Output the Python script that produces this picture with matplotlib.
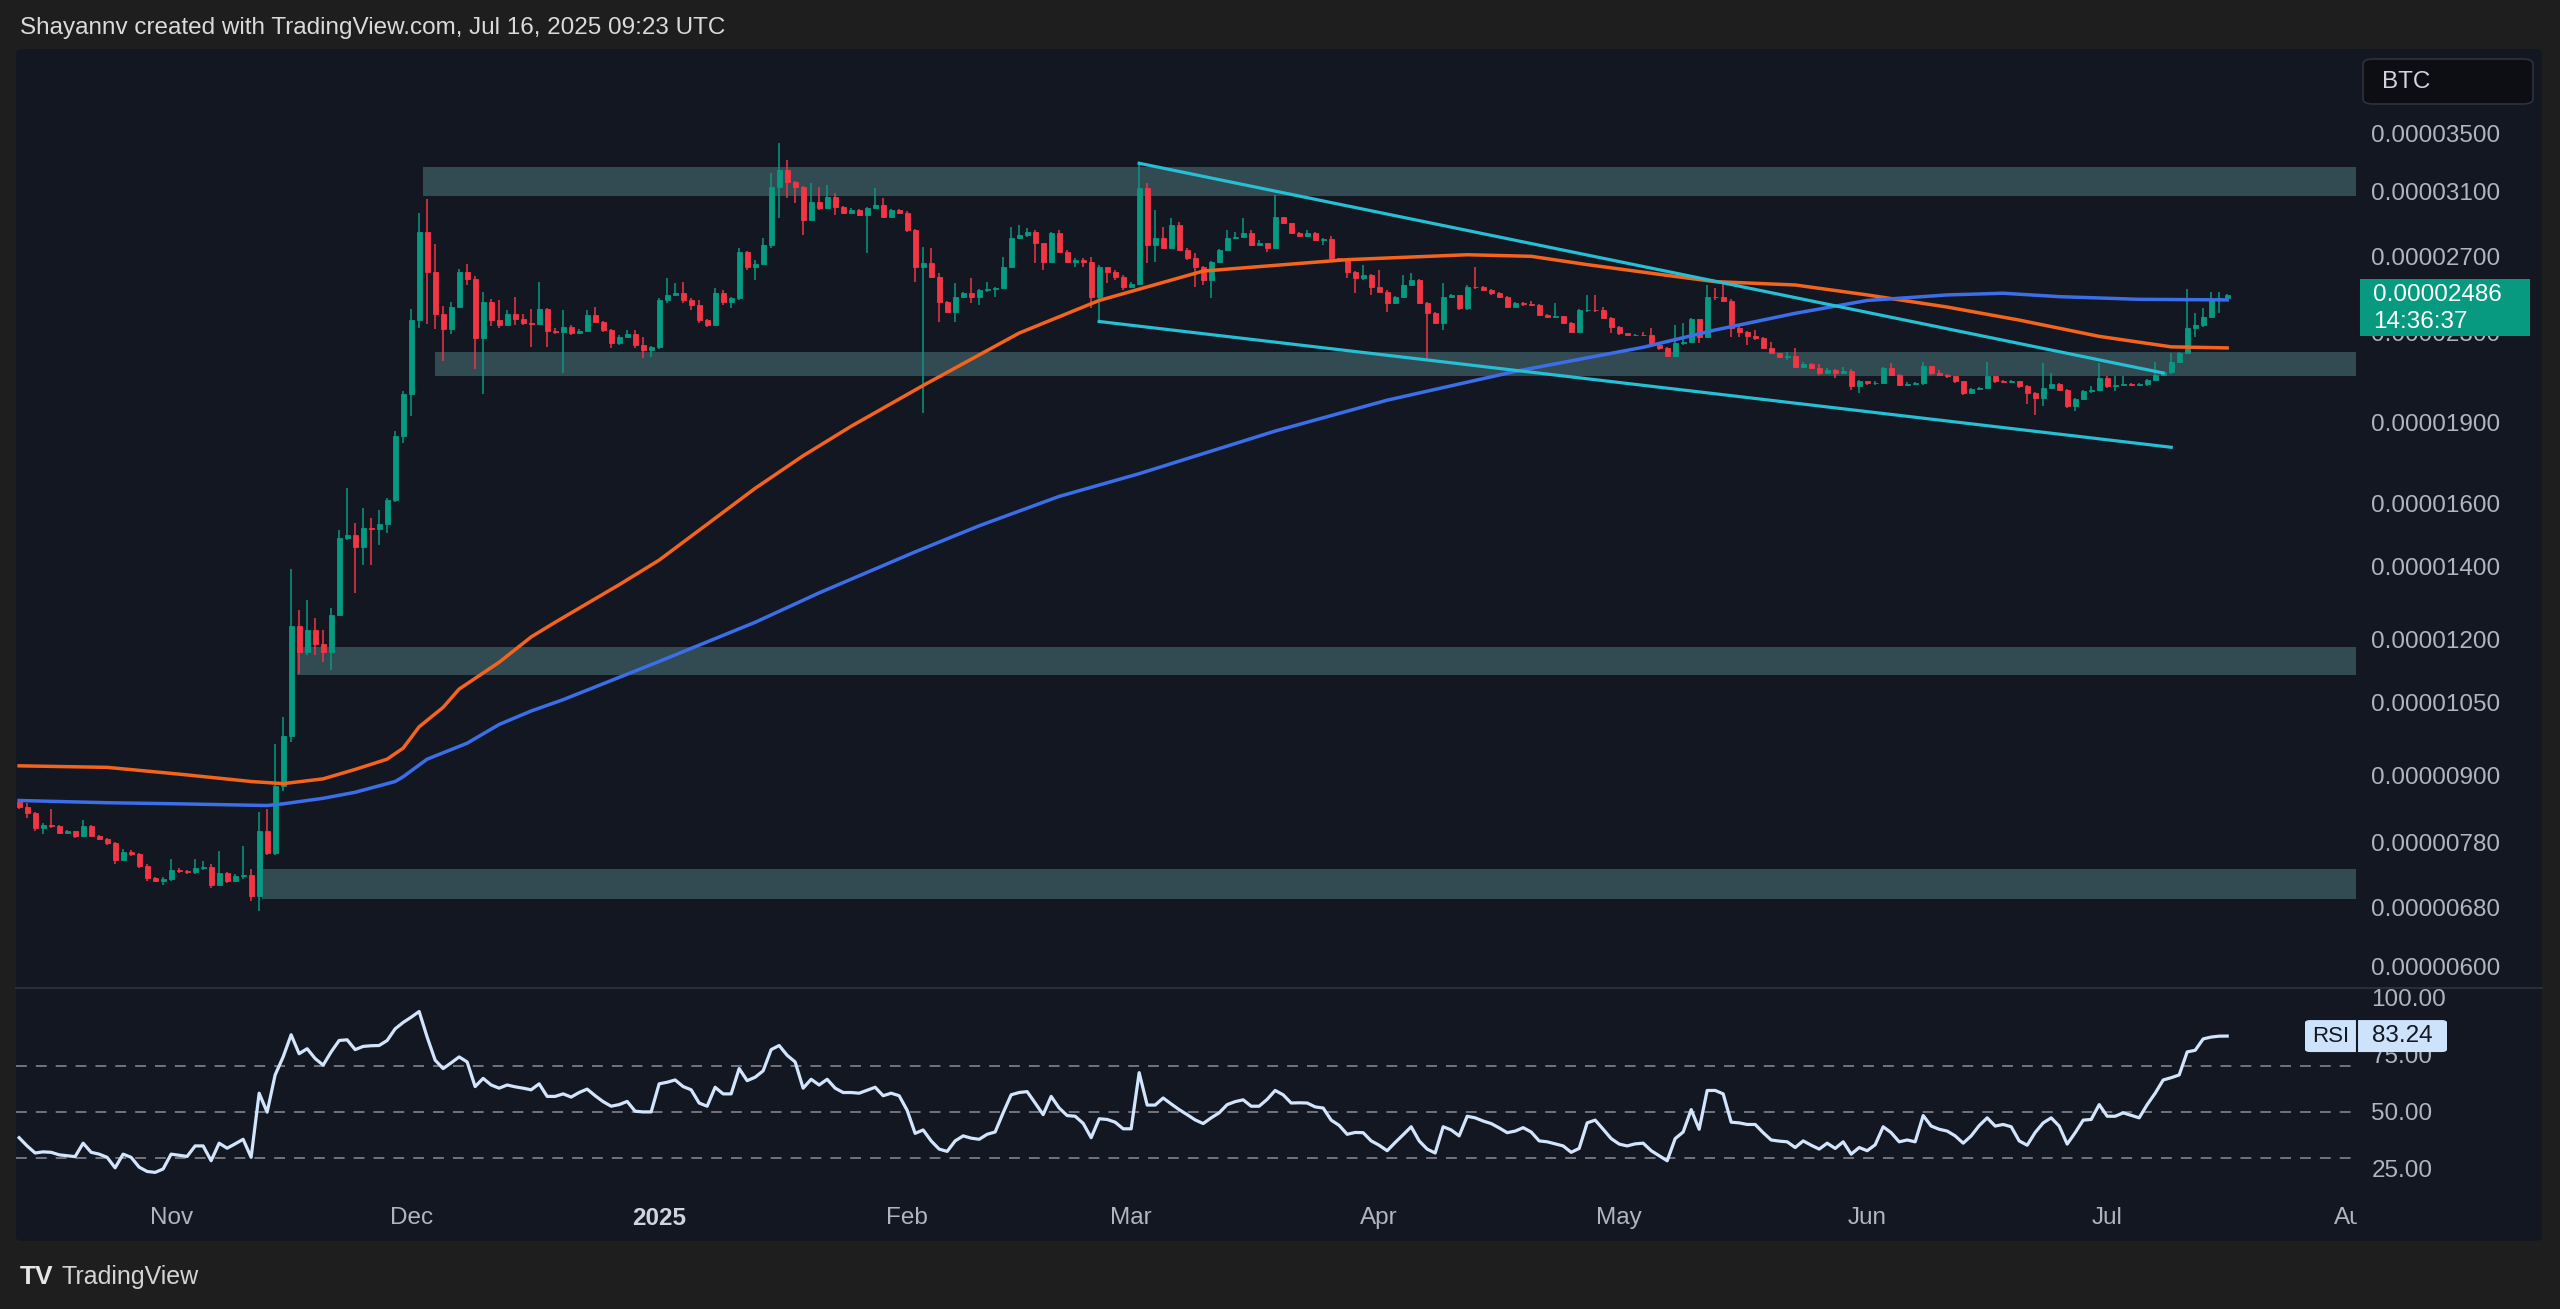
import numpy as np
import pandas as pd
import matplotlib
matplotlib.use("Agg")
import matplotlib.pyplot as plt
import matplotlib.dates as mdates
from matplotlib.patches import FancyBboxPatch, Rectangle
from matplotlib.lines import Line2D
from matplotlib.ticker import NullLocator
from matplotlib.transforms import Bbox

plt.rcParams["font.family"] = ["Liberation Sans", "DejaVu Sans"]

W, H = 2560, 1309
BG_OUT = "#1e1e1e"
BG = "#131722"
TXT = "#b2b5be"
UP = "#089981"
DOWN = "#f23645"

# Daily candles, price in units of 1e-8 BTC, first candle 2024-10-13
start_date = "2024-10-13"
first_open = 851
closes = [
    # Oct 13 - Oct 31
    842, 830, 805, 810, 808, 797, 799, 792, 808, 792, 786, 780, 752, 765, 762, 743, 724, 720, 722,
    # Nov
    736, 735, 733, 740, 741, 713, 731, 720, 727, 728, 697, 800, 763, 879, 978,
    1233, 1168, 1225, 1188, 1168, 1263, 1488, 1496, 1460, 1520, 1515, 1532, 1610, 1846, 2018,
    # Dec
    2360, 2844, 2614, 2389, 2314, 2427, 2614, 2572, 2272, 2452, 2360, 2335, 2389, 2364, 2345, 2340,
    2413, 2303, 2300, 2326, 2294, 2305, 2385, 2351, 2310, 2246, 2278, 2290, 2238, 2214, 2230,
    # Jan
    2461, 2488, 2497, 2461, 2436, 2359, 2335, 2497, 2453, 2470, 2727, 2642, 2655, 2766, 3129, 3241,
    3162, 3129, 2916, 3031, 2989, 3064, 2999, 2957, 2978, 2947, 2989, 3010, 2937, 2978, 2960,
    # Feb
    2855, 2642, 2660, 2586, 2453, 2402, 2479, 2497, 2479, 2514, 2520, 2523, 2642, 2805, 2825, 2845,
    2775, 2670, 2835, 2727, 2670, 2679, 2670, 2479, 2642, 2614, 2586, 2532,
    # Mar
    2545, 3118, 2766, 2805, 2746, 2885, 2736, 2689, 2642, 2568, 2670, 2736, 2805, 2815, 2835, 2766,
    2775, 2746, 2932, 2895, 2835, 2819, 2835, 2795, 2800, 2689, 2679, 2614, 2577, 2596, 2532,
    # Apr
    2505, 2444, 2479, 2541, 2568, 2444, 2393, 2343, 2479, 2488, 2418, 2532, 2530, 2514, 2497,
    2479, 2427, 2444, 2440, 2436, 2385, 2376, 2378, 2343, 2302, 2410, 2412, 2410, 2368, 2326,
    # May
    2294, 2286, 2286, 2285, 2238, 2223, 2187, 2246, 2254, 2363, 2275, 2479, 2475, 2455, 2318, 2300,
    2281, 2270, 2223, 2199, 2183, 2187, 2138, 2150, 2130, 2108, 2123, 2108, 2120, 2050, 2072,
    # Jun
    2064, 2066, 2130, 2101, 2057, 2062, 2064, 2140, 2108, 2101, 2094, 2072, 2022, 2040, 2043,
    2094, 2072, 2070, 2072, 2050, 2022, 2001, 2043, 2061, 2036, 1966, 1994, 2029, 2036, 2086,
    # Jul 1 - Jul 16
    2050, 2057, 2061, 2057, 2059, 2079, 2101, 2115, 2160, 2199, 2318, 2333, 2376, 2462, 2470, 2486,
]
highs = [
    855, 848, 832, 813, 838, 810, 802, 800, 818, 810, 793, 788, 782, 770, 768, 764, 745, 725, 725,
    754, 740, 737, 754, 750, 745, 766, 733, 730, 774, 738, 833, 838, 961, 1018,
    1394, 1276, 1303, 1255, 1224, 1283, 1512, 1653, 1536, 1585, 1552, 1577, 1620, 1866, 2030,
    2413, 2957, 3050, 2770, 2430, 2450, 2630, 2655, 2590, 2506, 2465, 2460, 2410, 2478, 2390, 2413,
    2558, 2420, 2320, 2410, 2335, 2315, 2410, 2427, 2355, 2315, 2285, 2310, 2310, 2278, 2235,
    2470, 2577, 2550, 2559, 2470, 2461, 2365, 2523, 2514, 2478, 2746, 2730, 2679, 2805, 3219, 3430,
    3311, 3165, 3135, 3151, 3129, 3140, 3085, 3005, 2990, 2985, 2995, 3118, 3053, 2985, 2985,
    2970, 2860, 2756, 2746, 2605, 2455, 2550, 2505, 2577, 2520, 2559, 2530, 2698, 2875, 2885, 2865,
    2855, 2780, 2840, 2855, 2736, 2689, 2689, 2698, 2650, 2642, 2623, 2596,
    2555, 3288, 3151, 2978, 2875, 2926, 2906, 2746, 2717, 2645, 2675, 2740, 2855, 2845, 2926, 2855,
    2795, 2780, 3074, 2935, 2900, 2840, 2855, 2840, 2805, 2819, 2692, 2672, 2620, 2651, 2600,
    2623, 2514, 2485, 2596, 2605, 2572, 2450, 2398, 2550, 2495, 2490, 2540, 2642, 2535, 2518,
    2505, 2485, 2450, 2450, 2455, 2440, 2388, 2444, 2380, 2351, 2415, 2488, 2488, 2427, 2372,
    2330, 2296, 2292, 2302, 2318, 2240, 2226, 2335, 2343, 2370, 2365, 2541, 2523, 2550, 2466, 2335,
    2305, 2310, 2278, 2254, 2200, 2207, 2223, 2158, 2155, 2150, 2130, 2125, 2138, 2125, 2076,
    2075, 2072, 2135, 2153, 2105, 2070, 2070, 2160, 2142, 2123, 2103, 2096, 2075, 2045, 2048,
    2160, 2097, 2078, 2078, 2075, 2055, 2025, 2153, 2108, 2065, 2040, 2000, 2033, 2050, 2153,
    2094, 2094, 2094, 2064, 2064, 2083, 2160, 2120, 2199, 2205, 2519, 2393, 2419, 2506, 2506, 2495,
]
lows = [
    838, 822, 800, 795, 805, 794, 795, 788, 790, 790, 784, 776, 745, 750, 758, 740, 720, 718, 713,
    720, 732, 730, 730, 737, 708, 712, 716, 718, 722, 690, 675, 760, 760, 870,
    966, 1114, 1160, 1160, 1143, 1125, 1260, 1480, 1325, 1404, 1404, 1465, 1504, 1605, 1817,
    1926, 2320, 2340, 2315, 2162, 2290, 2420, 2540, 2128, 2018, 2330, 2320, 2330, 2335, 2335, 2230,
    2340, 2230, 2290, 2108, 2285, 2290, 2300, 2345, 2300, 2222, 2240, 2275, 2222, 2176, 2183,
    2220, 2444, 2480, 2444, 2410, 2343, 2325, 2330, 2436, 2418, 2461, 2623, 2568, 2650, 2750, 2926,
    3053, 3021, 2825, 2910, 2980, 2985, 2947, 2950, 2955, 2940, 2717, 2985, 2930, 2935, 2950,
    2845, 2559, 1937, 2580, 2351, 2395, 2351, 2475, 2444, 2436, 2505, 2479, 2520, 2635, 2800, 2810,
    2660, 2623, 2665, 2720, 2660, 2642, 2642, 2418, 2351, 2550, 2568, 2514,
    2530, 2541, 2660, 2670, 2740, 2740, 2730, 2680, 2532, 2541, 2470, 2665, 2730, 2800, 2810, 2760,
    2765, 2727, 2740, 2890, 2830, 2815, 2815, 2790, 2766, 2680, 2675, 2577, 2497, 2570, 2488,
    2500, 2402, 2440, 2475, 2535, 2440, 2168, 2338, 2310, 2475, 2412, 2412, 2520, 2508, 2490,
    2472, 2420, 2425, 2430, 2430, 2378, 2368, 2370, 2338, 2295, 2298, 2400, 2400, 2362, 2294,
    2288, 2280, 2280, 2280, 2230, 2215, 2180, 2183, 2240, 2250, 2246, 2270, 2462, 2450, 2278, 2278,
    2238, 2262, 2218, 2195, 2178, 2168, 2134, 2134, 2125, 2102, 2105, 2086, 2105, 2036, 2022,
    2058, 2058, 2060, 2095, 2050, 2052, 2057, 2057, 2102, 2094, 2088, 2066, 2015, 2018, 2035,
    2040, 2066, 2064, 2064, 2045, 1973, 1931, 1966, 2040, 2030, 1959, 1945, 1990, 2022, 2030,
    2045, 2029, 2055, 2052, 2052, 2050, 2075, 2094, 2105, 2155, 2195, 2278, 2325, 2370, 2393, 2465,
]
rsi = [
    38.7, 35.1, 32.0, 32.5, 32.3, 31.2, 30.8, 30.4, 36.3, 32.3, 31.5, 30.1, 25.5, 31.5, 30.1, 25.8,
    23.9, 23.5, 25.0, 31.5, 31.0, 30.5, 35.1, 35.1, 28.6, 36.3, 34.1, 36.0, 38.0, 30.1, 58.2, 49.9,
    66.2, 74.1, 83.8, 75.5, 77.7, 73.4, 70.5, 76.3, 81.3, 81.6, 77.3, 78.7, 79.0, 79.1, 81.3, 86.4,
    89.2, 91.5, 94.0, 82.8, 72.7, 69.0, 71.5, 74.1, 71.9, 61.1, 64.7, 61.8, 60.4, 61.8, 61.0, 60.4,
    59.7, 62.3, 56.8, 56.8, 57.9, 56.5, 58.5, 60.0, 57.1, 54.5, 52.5, 53.2, 54.6, 50.3, 50.0, 50.0,
    62.3, 63.0, 64.0, 61.1, 59.7, 53.9, 52.5, 60.8, 57.9, 57.9, 69.0, 63.7, 65.2, 68.0, 77.3, 79.1,
    74.8, 71.9, 60.4, 64.3, 61.8, 64.3, 60.4, 58.5, 58.5, 58.2, 59.5, 60.8, 57.1, 58.2, 57.1, 50.7,
    40.6, 42.1, 37.3, 33.7, 32.7, 37.3, 39.5, 38.5, 38.0, 40.2, 41.2, 49.6, 57.5, 58.5, 58.9, 53.9,
    48.8, 56.8, 51.7, 48.4, 48.1, 45.0, 38.7, 47.0, 46.7, 45.5, 42.6, 42.6, 67.2, 53.0, 53.0, 56.1,
    53.5, 51.0, 48.8, 46.5, 44.9, 47.4, 49.6, 53.2, 54.5, 55.3, 52.5, 52.5, 55.5, 59.4, 57.5, 53.9,
    54.0, 53.9, 52.2, 51.7, 46.4, 44.1, 40.2, 41.0, 40.9, 37.3, 35.4, 33.0, 36.6, 40.0, 43.5, 37.3,
    33.7, 32.0, 43.5, 42.1, 39.5, 48.1, 47.4, 46.0, 44.9, 43.0, 40.9, 41.6, 43.1, 41.2, 37.3, 36.9,
    36.0, 35.1, 32.3, 34.0, 45.2, 46.4, 42.4, 38.3, 35.9, 35.1, 36.0, 36.3, 33.0, 30.8, 28.6, 38.3,
    41.2, 51.0, 42.4, 59.4, 59.4, 57.9, 45.5, 45.2, 44.5, 44.5, 40.9, 37.7, 37.2, 36.9, 34.4, 37.3,
    35.4, 33.7, 36.3, 34.0, 36.9, 31.5, 34.4, 33.0, 35.6, 43.5, 40.9, 36.9, 37.7, 36.9, 48.4, 43.8,
    42.4, 41.6, 39.5, 36.3, 39.5, 44.0, 47.4, 43.8, 44.5, 43.5, 37.3, 35.4, 41.0, 45.2, 47.4, 43.8,
    35.9, 40.9, 46.4, 46.7, 53.2, 48.1, 48.1, 49.6, 48.5, 47.4, 53.2, 58.2, 64.0, 65.0, 66.2, 76.3,
    77.0, 82.0, 82.8, 83.2, 83.24,
]

# moving averages
ma_orange_dates = ["2024-10-13", "2024-10-24", "2024-11-02", "2024-11-11", "2024-11-15", "2024-11-20",
                   "2024-11-24", "2024-11-28", "2024-11-30", "2024-12-02", "2024-12-05", "2024-12-07",
                   "2024-12-12", "2024-12-16", "2024-12-19", "2024-12-27", "2025-01-01", "2025-01-07",
                   "2025-01-13", "2025-01-19", "2025-01-25", "2025-02-03", "2025-02-15", "2025-02-25",
                   "2025-03-10", "2025-03-28", "2025-04-12", "2025-04-20", "2025-04-27", "2025-05-06",
                   "2025-05-13", "2025-05-23", "2025-06-01", "2025-06-11", "2025-06-20", "2025-06-30",
                   "2025-07-09", "2025-07-16"]
ma_orange = [918, 915, 902, 888, 884, 893, 911, 931, 953, 997, 1039, 1080, 1143, 1206, 1244, 1347,
             1419, 1531, 1652, 1770, 1884, 2054, 2295, 2459, 2617, 2681, 2709, 2700, 2653, 2599,
             2559, 2541, 2488, 2425, 2359, 2279, 2229, 2224]
ma_blue_dates = ["2024-10-13", "2024-10-24", "2024-11-02", "2024-11-13", "2024-11-15", "2024-11-20",
                 "2024-11-24", "2024-11-29", "2024-11-30", "2024-12-03", "2024-12-08", "2024-12-12",
                 "2024-12-16", "2024-12-20", "2025-01-01", "2025-01-13", "2025-01-21", "2025-02-02",
                 "2025-02-10", "2025-02-20", "2025-03-02", "2025-03-19", "2025-04-02", "2025-04-18",
                 "2025-05-04", "2025-05-13", "2025-05-23", "2025-06-01", "2025-06-11", "2025-06-18",
                 "2025-06-25", "2025-07-05", "2025-07-16"]
ma_blue = [853, 849, 847, 844, 847, 857, 868, 888, 897, 931, 963, 1002, 1031, 1056, 1145, 1244, 1324,
           1444, 1526, 1624, 1704, 1865, 1991, 2116, 2227, 2310, 2393, 2459, 2488, 2497, 2479, 2465, 2462]

# channel trendlines
upper_dates = ["2025-03-02", "2025-07-08"]
upper_vals = [3288, 2109]
lower_dates = ["2025-02-25", "2025-07-09"]
lower_vals = [2352, 1802]

# support / resistance zones
zone_start = ["2024-12-02 12:00", "2024-12-04", "2024-11-16 18:00", "2024-11-12 10:00"]
zone_lo = [3068, 2097, 1112, 693]
zone_hi = [3262, 2206, 1180, 738]

price_ticks = [3500, 3100, 2700, 2300, 1900, 1600, 1400, 1200, 1050, 900, 780, 680, 600]
rsi_ticks = [100, 75, 50, 25]
rsi_levels = [70, 50, 30]
month_ticks = ["2024-11-01", "2024-12-01", "2025-01-01", "2025-02-01", "2025-03-01",
               "2025-04-01", "2025-05-01", "2025-06-01", "2025-07-01", "2025-08-01"]
month_labels = ["Nov", "Dec", "2025", "Feb", "Mar", "Apr", "May", "Jun", "Jul", "Aug"]

S = 1e-8


def fx(px):
    return px / W


def fy(py):
    return 1 - py / H


def dn(s):
    return mdates.date2num(pd.to_datetime(s))


fig = plt.figure(figsize=(W / 100, H / 100), dpi=100, facecolor=BG_OUT)

panel = FancyBboxPatch((fx(16), fy(1241)), fx(2542) - fx(16), fy(49) - fy(1241),
                       boxstyle="round,pad=0,rounding_size=0.003", transform=fig.transFigure,
                       facecolor=BG, edgecolor="none", zorder=-10)
fig.add_artist(panel)

ax = fig.add_axes([fx(16), fy(988), fx(2356) - fx(16), fy(49) - fy(988)])
ax_r = fig.add_axes([fx(16), fy(1200), fx(2356) - fx(16), fy(988) - fy(1200)], sharex=ax)
for a in (ax, ax_r):
    a.set_facecolor("none")
    for sp in a.spines.values():
        sp.set_visible(False)

# candles
dates = pd.date_range(start_date, periods=len(closes), freq="D")
x = mdates.date2num(dates)
c = np.array(closes, dtype=float) * S
o = np.r_[first_open, closes[:-1]].astype(float) * S
hi = np.array(highs, dtype=float) * S
lo = np.array(lows, dtype=float) * S
cols = np.where(c >= o, UP, DOWN)

ax.set_yscale("log")

# zones
x_end = dn("2024-11-01") + 273.1
for zs, zl, zh in zip(zone_start, zone_lo, zone_hi):
    ax.fill_between([dn(zs), x_end], zl * S, zh * S, color="#324b53", lw=0, zorder=1)

ax.vlines(x, lo, hi, colors=cols, lw=1.1, zorder=3)
ax.bar(x, np.abs(c - o), bottom=np.minimum(o, c), width=0.62, color=cols, edgecolor=cols,
       linewidth=0.6, zorder=4)

ax.plot([dn(d) for d in ma_orange_dates], np.array(ma_orange) * S, color="#f5641c", lw=2.5, zorder=5)
ax.plot([dn(d) for d in ma_blue_dates], np.array(ma_blue) * S, color="#3b6ee8", lw=2.5, zorder=5)
ax.plot([dn(d) for d in upper_dates], np.array(upper_vals) * S, color="#26bfd3", lw=2.3, zorder=6)
ax.plot([dn(d) for d in lower_dates], np.array(lower_vals) * S, color="#26bfd3", lw=2.3, zorder=6)

ax.set_xlim(dn("2024-11-01") - 19.39, x_end)
ax.set_ylim(573.5 * S, 4188 * S)
ax.yaxis.tick_right()
ax.set_yticks([v * S for v in price_ticks])
ax.set_yticklabels([f"{v * S:.8f}" for v in price_ticks])
ax.yaxis.set_minor_locator(NullLocator())
ax.tick_params(axis="y", length=0, pad=11, labelsize=17.5, labelcolor=TXT)
ax.tick_params(axis="x", which="both", length=0, labelbottom=False)

# RSI pane
for lv in rsi_levels:
    ax_r.axhline(lv, color="#787b86", lw=1.3, ls=(0, (6, 5)), zorder=1)
ax_r.plot(x, rsi, color="#d3e5fd", lw=2.3, zorder=3)
ax_r.set_ylim(11.4, 104.3)
ax_r.yaxis.tick_right()
ax_r.set_yticks(rsi_ticks)
ax_r.set_yticklabels([f"{v:.2f}" for v in rsi_ticks])
ax_r.tick_params(axis="y", length=0, pad=11, labelsize=17.5, labelcolor=TXT)
ax_r.set_xticks([dn(d) for d in month_ticks])
ax_r.set_xticklabels(month_labels)
ax_r.xaxis.set_minor_locator(NullLocator())
ax_r.tick_params(axis="x", length=0, pad=5, labelsize=17.5, labelcolor=TXT)
for lbl in ax_r.get_xticklabels():
    if lbl.get_text() == "2025":
        lbl.set_fontweight("bold")
        lbl.set_color("#d1d4dc")
    lbl.set_clip_box(Bbox([[0, 0], [2357, H]]))
    lbl.set_clip_on(True)

# pane separator
fig.add_artist(Line2D([fx(16), fx(2542)], [fy(988), fy(988)], transform=fig.transFigure,
                      color="#2a2e39", lw=1.5))

# header / footer
fig.text(fx(20), fy(28), "Shayannv created with TradingView.com, Jul 16, 2025 09:23 UTC",
         ha="left", va="center", fontsize=17.5, color="#dadada")
fig.text(fx(20), fy(1277), "TV", ha="left", va="center", fontsize=19, fontweight="bold",
         color="#e6e6e6")
fig.text(fx(62), fy(1277), "TradingView", ha="left", va="center", fontsize=18, color="#d4d4d4")

# currency box
fig.add_artist(FancyBboxPatch((fx(2363), fy(104)), fx(2533) - fx(2363), fy(59) - fy(104),
                              boxstyle="round,pad=0,rounding_size=0.004", transform=fig.transFigure,
                              facecolor="#0c0e13", edgecolor="#2e3140", lw=1.2))
fig.text(fx(2382), fy(82), "BTC", ha="left", va="center", fontsize=17.5, color="#d1d4dc")


def y_px(a, v):
    return H - a.transData.transform((a.get_xlim()[0], v))[1]


# last price tag
yp = y_px(ax, closes[-1] * S)
fig.add_artist(Rectangle((fx(2360), fy(yp + 41)), fx(2530) - fx(2360), (57) / H,
                         transform=fig.transFigure, facecolor=UP, edgecolor="none"))
fig.text(fx(2373), fy(yp), f"{closes[-1] * S:.8f}", ha="left", va="center", fontsize=17.5,
         color="white")
fig.text(fx(2373), fy(yp + 27), "14:36:37", ha="left", va="center", fontsize=17.5, color="white")

# RSI tag
yr = y_px(ax_r, rsi[-1])
fig.add_artist(FancyBboxPatch((fx(2305), fy(yr + 16)), fx(2447) - fx(2305), 32 / H,
                              boxstyle="round,pad=0,rounding_size=0.002", transform=fig.transFigure,
                              facecolor="#cde3fb", edgecolor="none"))
fig.add_artist(Line2D([fx(2357), fx(2357)], [fy(yr + 16), fy(yr - 16)], transform=fig.transFigure,
                      color="#131722", lw=1.5))
fig.text(fx(2331), fy(yr), "RSI", ha="center", va="center", fontsize=16, color="#131722")
fig.text(fx(2402), fy(yr), f"{rsi[-1]:.2f}", ha="center", va="center", fontsize=17.5, color="#131722")

fig.savefig("out.png", dpi=100, facecolor=BG_OUT)
